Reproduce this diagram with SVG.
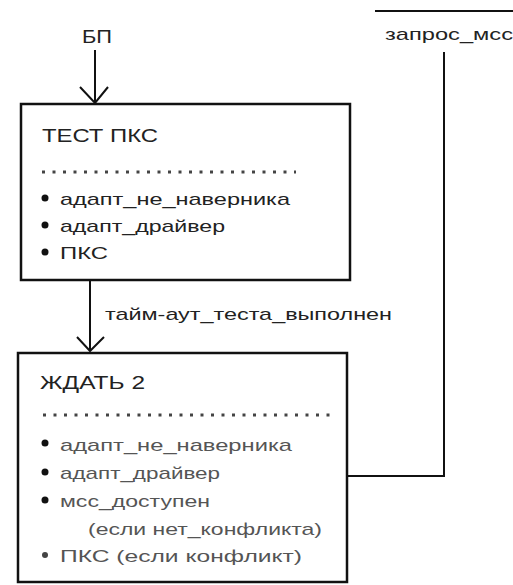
<svg xmlns="http://www.w3.org/2000/svg" width="513" height="585" viewBox="0 0 513 585">
<style>
text{font-family:"Liberation Sans",Arial,sans-serif;fill:#222}
.t{font-size:18px}
.i{font-size:17px}
.g{fill:#555}
.box{fill:#fff;stroke:#111;stroke-width:2.5}
.ln{fill:none;stroke:#111;stroke-width:2}
.dot{stroke:#444;stroke-width:3;stroke-dasharray:3 7.5}
</style>
<rect width="513" height="585" fill="#fff"/>
<g id="connectors">
<line class="ln" x1="375" y1="11" x2="513" y2="11"/>
<path class="ln" d="M95,50 V103 M80,87 L95,103 L108,87"/>
<path class="ln" d="M90,281 V351 M77,337 L90,351 L104,337"/>
<path class="ln" d="M347,476 H444 V52"/>
<text x="82" y="43" style="font-size:19px" textLength="30" lengthAdjust="spacingAndGlyphs">БП</text>
<text x="385" y="40" class="i" textLength="128" lengthAdjust="spacingAndGlyphs">запрос_мсс</text>
<text x="105" y="320" class="i" textLength="287" lengthAdjust="spacingAndGlyphs">тайм-аут_теста_выполнен</text>
</g>
<g id="test-pks">
<rect class="box" x="21" y="104" width="329" height="176"/>
<text x="42" y="142" class="t" textLength="116" lengthAdjust="spacingAndGlyphs">ТЕСТ ПКС</text>
<line class="dot" x1="42" y1="172" x2="296" y2="172"/>
<circle cx="45" cy="198" r="3.5" fill="#111"/>
<text x="60" y="205" class="i" textLength="230" lengthAdjust="spacingAndGlyphs">адапт_не_наверника</text>
<circle cx="45" cy="225" r="3.5" fill="#111"/>
<text x="60" y="232" class="i" textLength="165" lengthAdjust="spacingAndGlyphs">адапт_драйвер</text>
<circle cx="45" cy="252" r="3.5" fill="#111"/>
<text x="60" y="259" class="i" textLength="48" lengthAdjust="spacingAndGlyphs">ПКС</text>
</g>
<g id="zhdat-2">
<rect class="box" x="18" y="353" width="329" height="229"/>
<text x="40" y="389" class="t" textLength="105" lengthAdjust="spacingAndGlyphs">ЖДАТЬ 2</text>
<line class="dot" x1="43" y1="415" x2="336" y2="415"/>
<circle cx="45" cy="443" r="3.5" fill="#111"/>
<text x="60" y="451" class="i g" textLength="232" lengthAdjust="spacingAndGlyphs">адапт_не_наверника</text>
<circle cx="45" cy="472" r="3.5" fill="#111"/>
<text x="60" y="479" class="i g" textLength="160" lengthAdjust="spacingAndGlyphs">адапт_драйвер</text>
<circle cx="45" cy="500" r="3.5" fill="#111"/>
<text x="60" y="507" class="i g" textLength="150" lengthAdjust="spacingAndGlyphs">мсс_доступен</text>
<text x="88" y="535" class="i g" textLength="234" lengthAdjust="spacingAndGlyphs">(если нет_конфликта)</text>
<circle cx="45" cy="555" r="3" fill="#444"/>
<text x="60" y="562" class="i g" textLength="242" lengthAdjust="spacingAndGlyphs">ПКС (если конфликт)</text>
</g>
</svg>
